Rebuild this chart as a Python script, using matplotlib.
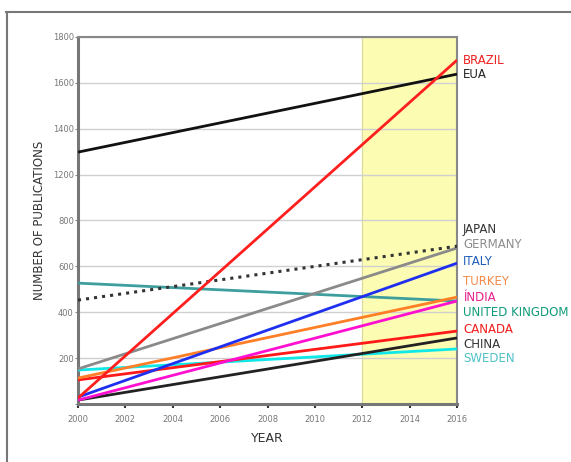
import matplotlib
matplotlib.use("Agg")
import matplotlib.pyplot as plt
from matplotlib.lines import Line2D

# ──────────────────────────────────────────────
# data (values on the axis scale, 200 per grid line)
# ──────────────────────────────────────────────
YEARS = [2000, 2016]

countries = ["BRAZIL", "EUA", "JAPAN", "GERMANY", "ITALY", "TURKEY",
             "ÍNDIA", "UNITED KINGDOM", "CANADA", "CHINA", "SWEDEN"]
start_vals = [26, 1098, 453, 153, 30, 113, 17, 527, 105, 17, 148]
end_vals   = [1499, 1438, 688, 680, 614, 466, 449, 449, 318, 288, 240]
label_y    = [1499, 1438, 762, 697, 623, 536, 466, 397, 327, 261, 200]

line_colors  = ["#ff1f1f", "#111111", "#333333", "#8a8a8a", "#1f2ff0", "#ff7f27",
                "#ff10d0", "#3e9e9e", "#ff1a1a", "#222222", "#10e8e8"]
label_colors = ["#f02020", "#222222", "#333333", "#8c8c8c", "#1f5fb8", "#f58a4a",
                "#e8208c", "#109a7a", "#f01c1c", "#333333", "#50c2c8"]
styles = ["-", "-", ":", "-", "-", "-", "-", "-", "-", "-", "-"]

x_ticks = list(range(2000, 2017, 2))
y_ticks = list(range(0, 1601, 200))
y_tick_labels = ["", "200", "400", "600", "800", "1200", "1400", "1600", "1800"]

# draw order (back to front)
order = [10, 7, 3, 2, 9, 8, 6, 5, 4, 1, 0]

# ──────────────────────────────────────────────
# figure
# ──────────────────────────────────────────────
fig = plt.figure(figsize=(5.71, 4.62), dpi=100)
ax = fig.add_axes([0.1366, 0.1255, 0.6638, 0.7945])

ax.axvspan(2012, 2016, color="#fcfcb2", zorder=0)
ax.axvline(2012, color="#d8d8a0", linewidth=0.8, zorder=0.5)

for i in order:
    ax.plot(YEARS, [start_vals[i], end_vals[i]], color=line_colors[i],
            linestyle=styles[i], linewidth=2.0 if styles[i] == "-" else 2.2,
            solid_capstyle="butt", zorder=3)
    ax.text(2016.25, label_y[i], countries[i], color=label_colors[i],
            fontsize=8.5, va="center", ha="left", clip_on=False)

ax.set_xlim(2000, 2016)
ax.set_ylim(0, 1600)
ax.set_xticks(x_ticks)
ax.set_xticklabels([str(x) for x in x_ticks], fontsize=6, color="#777777")
ax.set_yticks(y_ticks)
ax.set_yticklabels(y_tick_labels, fontsize=6, color="#777777")
ax.tick_params(axis="x", length=3, width=1.5, color="#333333", pad=5)
ax.tick_params(axis="y", length=2, width=0.8, color="#888888", pad=1)

ax.yaxis.grid(True, color="#d0d0d0", linewidth=1.0)
ax.set_axisbelow(True)
for side in ["left", "bottom"]:
    ax.spines[side].set_color("#777777")
    ax.spines[side].set_linewidth(2.2)
for side in ["top", "right"]:
    ax.spines[side].set_color("#888888")
    ax.spines[side].set_linewidth(1.5)

ax.set_xlabel("YEAR", fontsize=9, color="#333333", labelpad=6)
ax.set_ylabel("NUMBER OF PUBLICATIONS", fontsize=8.5, color="#333333", labelpad=5)

# outer frame (top and left edges)
fig.add_artist(Line2D([6 / 571, 1.0], [1 - 12 / 462, 1 - 12 / 462],
                      transform=fig.transFigure, color="#777777", linewidth=1.5))
fig.add_artist(Line2D([7 / 571, 7 / 571], [0, 1 - 12 / 462],
                      transform=fig.transFigure, color="#777777", linewidth=1.5))

fig.savefig("out.png", dpi=100)
